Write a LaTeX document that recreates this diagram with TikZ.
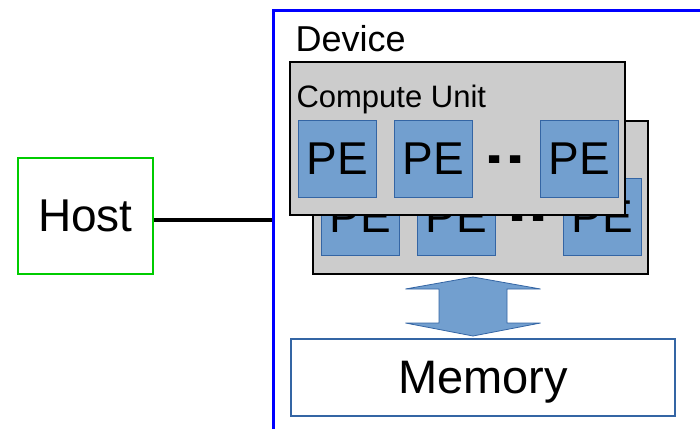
\documentclass[tikz,border=0pt]{standalone}
\usepackage{fontspec}
\setmainfont{Liberation Sans}
\usepackage{xcolor}
\usepackage{tikz}
\usetikzlibrary{positioning}
\definecolor{peblue}{HTML}{729FCF}
\definecolor{peedge}{HTML}{3465A4}
\definecolor{hostgreen}{HTML}{00CC00}

\begin{document}
\begin{tikzpicture}[
  x=1pt, y=-1pt,
  dev/.style={draw=blue, line width=2.8pt, inner sep=0pt, minimum width=460pt, minimum height=440pt},
  hst/.style={draw=hostgreen, line width=2pt, inner sep=0pt, minimum width=135pt, minimum height=116pt, font=\fontsize{46}{50}\selectfont},
  cu/.style={draw, line width=2.2pt, fill=gray!40, inner sep=0pt, minimum width=335pt, minimum height=153pt},
  pe/.style={draw=peedge, line width=0.8pt, fill=peblue, inner sep=0pt, minimum width=78pt, minimum height=77pt, font=\fontsize{46}{50}\selectfont},
  dots/.style={inner sep=0pt, font=\fontsize{52}{52}\bfseries},
  mem/.style={draw=peedge, line width=2pt, fill=white, inner sep=0pt, text depth=0pt, minimum width=384pt, minimum height=77pt, font=\fontsize{47}{50}\selectfont},
  link/.style={line width=3.4pt}
]
  \useasboundingbox (0,0) rectangle (700,428);
  \clip (0,0) rectangle (700,428);
  \node[dev, anchor=north west] (dv) at (272,9) {};
  \node[anchor=base west, font=\fontsize{36}{40}\selectfont] (dl) at (292,52) {Device};
  \node[hst] (h) at (85.5,216) {Host};
  \draw[link] ([yshift=-4pt]h.east) -- ([yshift=-4pt]h.east -| dv.west);
  % back compute unit
  \node[cu] (cb) at (480.5,197.5) {};
  \node[pe] (pb1) at (360,216.5) {PE};
  \node[pe] (pb2) at (456,216.5) {PE};
  \node[pe] (pb3) at (602.5,216.5) {PE};
  \node[dots] (db) at (528,217.5) {\scalebox{1.4}[1]{..}};
  % front compute unit
  \node[cu] (cf) at (457.5,138.5) {};
  \node[anchor=base west, font=\fontsize{31}{34}\selectfont] (cl) at (293,107) {Compute Unit};
  \node[pe] (pf1) at (337,158.5) {PE};
  \node[pe] (pf2) at (433,158.5) {PE};
  \node[pe] (pf3) at (579.5,158.5) {PE};
  \node[dots] (df) at (505,159.5) {\scalebox{1.4}[1]{..}};
  % memory and transfer
  \node[mem] (m) at (483,377.5) {Memory};
  \draw[draw=peedge, fill=peblue, line width=0.8pt] (473,277) -- (540.5,289) -- (507,289) -- (507,323) -- (540.5,323)
    -- (473,336) -- (405.5,323) -- (439,323) -- (439,289) -- (405.5,289) -- cycle;
\end{tikzpicture}
\end{document}
